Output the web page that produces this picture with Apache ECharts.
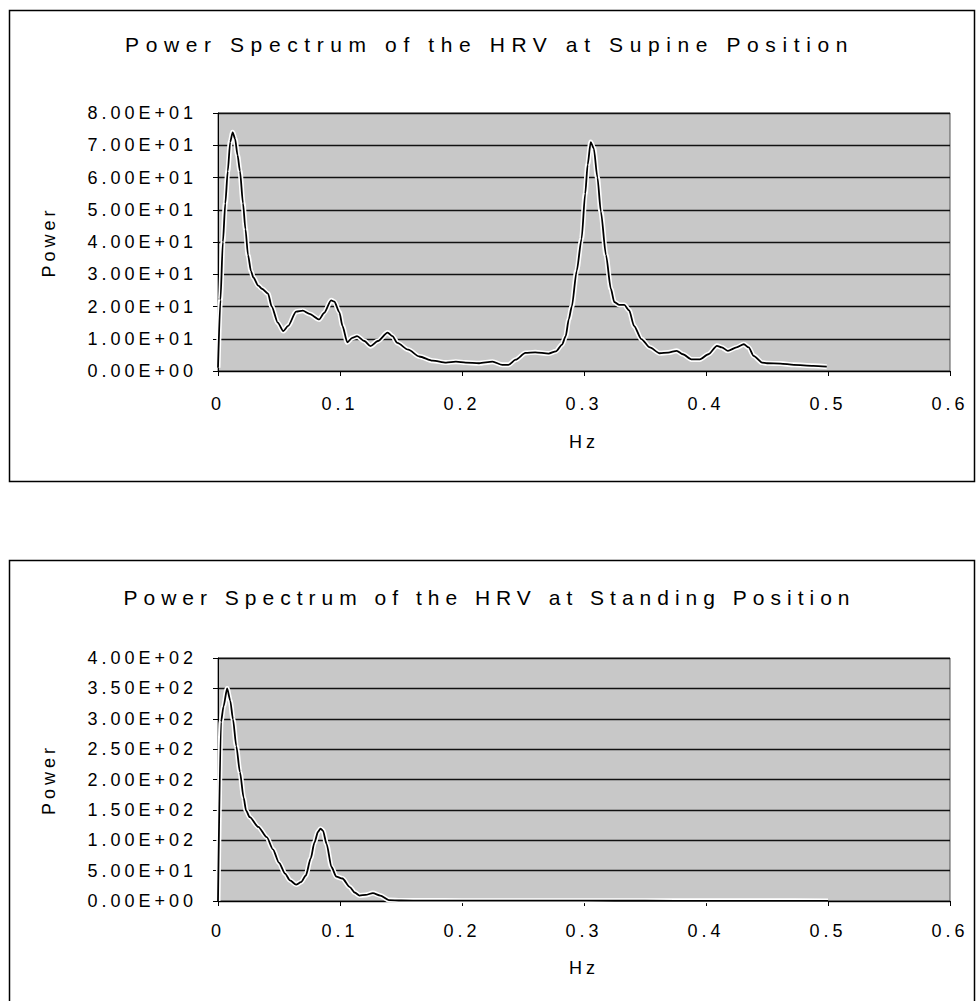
<!DOCTYPE html>
<html><head><meta charset="utf-8">
<script src="https://cdn.jsdelivr.net/npm/echarts@6/dist/echarts.min.js"></script>
<style>
html,body{margin:0;padding:0;background:#fff;}
#c{width:979px;height:1001px;}
#c svg text{letter-spacing:4px;}
</style></head><body><div id="c"></div>
<script>
// ---- data ----
const titles = ['Power Spectrum of the HRV at Supine Position', 'Power Spectrum of the HRV at Standing Position'];
const xAxisName = 'Hz';
const yAxisName = 'Power';
const hzTicks = ['0', '0.1', '0.2', '0.3', '0.4', '0.5', '0.6'];
const supineTicks = ['0.00E+00','1.00E+01','2.00E+01','3.00E+01','4.00E+01','5.00E+01','6.00E+01','7.00E+01','8.00E+01'];
const standingTicks = ['0.00E+00','5.00E+01','1.00E+02','1.50E+02','2.00E+02','2.50E+02','3.00E+02','3.50E+02','4.00E+02'];

const supineHz = [0,0.002,0.004,0.006,0.008,0.010,0.012,0.014,0.016,0.018,0.0205,0.0225,0.0246,0.027,0.029,0.033,0.036,0.041,0.044,0.049,0.0535,0.0575,0.064,0.0695,0.075,0.083,0.087,0.0927,0.0954,0.0995,0.102,0.106,0.110,0.114,0.120,0.125,0.131,0.139,0.143,0.147,0.156,0.165,0.176,0.187,0.195,0.203,0.214,0.225,0.233,0.238,0.244,0.252,0.260,0.271,0.277,0.282,0.285,0.2875,0.290,0.294,0.298,0.301,0.303,0.3055,0.308,0.311,0.3138,0.318,0.322,0.3248,0.329,0.333,0.337,0.341,0.347,0.354,0.362,0.369,0.376,0.381,0.388,0.395,0.402,0.409,0.413,0.418,0.425,0.431,0.435,0.439,0.446,0.450,0.461,0.472,0.488,0.499];
const supinePower = [1,22,40,52,62,71,74,72,67,62,52,44,36,31,29,26.5,25.5,24,20,15,12.4,14,18.4,18.7,17.7,16,18,21.9,21.5,18.2,14,8.9,10.3,10.8,9.3,7.7,9.3,11.9,10.8,8.7,6.6,4.5,3.2,2.6,2.9,2.6,2.4,2.9,1.9,1.9,3.5,5.6,5.8,5.4,6.1,8.2,10.8,16,20,31,41,55,64,71,69,60,49.5,36,25.5,21.4,20.5,20.5,18.8,14,9.9,7.3,5.5,5.7,6.25,5.2,3.6,3.6,5.2,7.8,7.3,6.25,7.3,8.3,7.3,4.7,2.6,2.4,2.3,1.9,1.6,1.35];

const standingHz = [0,0.0025,0.0045,0.0075,0.010,0.0123,0.015,0.018,0.021,0.023,0.026,0.033,0.040,0.045,0.050,0.055,0.059,0.064,0.068,0.072,0.076,0.079,0.082,0.084,0.086,0.089,0.093,0.097,0.102,0.108,0.112,0.116,0.121,0.127,0.133,0.140,0.150,0.170,0.200,0.250,0.300,0.350,0.400,0.450,0.500];
const standingPower = [0,295,320,350,330,299,255,212,170,149,138,122,105,85,63,45,34,27,31,42,70,96,114,119,116,94,56,40,37,23,14,9,10,13,9,1.5,0.8,0.7,0.6,0.5,0.5,0.4,0.3,0.3,0.2];

// ---- chart ----
const FONT = "'Liberation Sans', Arial, sans-serif";
function pairs(xs, ys){ return xs.map((x,i)=>[x, ys[i]]); }

function xAxisCfg(gridIndex, labelMargin, nameGap){
  return {
    type:'value', gridIndex, min:0, max:0.6, interval:0.1,
    name: xAxisName, nameLocation:'middle', nameGap,
    nameTextStyle:{fontFamily:FONT, fontSize:18, color:'#000'},
    axisLine:{show:true, onZero:false, lineStyle:{color:'#000', width:1}},
    axisTick:{show:true, length:5, inside:false, lineStyle:{color:'#000'}},
    axisLabel:{margin:labelMargin, fontFamily:FONT, fontSize:18, color:'#000',
      formatter:(v)=>hzTicks[Math.round(v/0.1)]},
    splitLine:{show:false}
  };
}
function yAxisCfg(gridIndex, max, interval, ticks){
  return {
    type:'value', gridIndex, min:0, max, interval,
    name: yAxisName, nameLocation:'middle', nameGap:160, nameRotate:90,
    nameTextStyle:{fontFamily:FONT, fontSize:18, color:'#000'},
    axisLine:{show:true, lineStyle:{color:'#000', width:1}},
    axisTick:{show:true, length:5, lineStyle:{color:'#000'}},
    axisLabel:{margin:21, fontFamily:FONT, fontSize:18, color:'#000',
      formatter:(v)=>ticks[Math.round(v/interval)]},
    splitLine:{show:true, lineStyle:{color:'#111', width:1.3, type:'solid'}}
  };
}
function seriesPair(idx, data){
  const base = {type:'line', xAxisIndex:idx, yAxisIndex:idx, data, showSymbol:false, symbol:'none',
    smooth:0.25, smoothMonotone:'x', silent:true, animation:false};
  return [
    Object.assign({}, base, {lineStyle:{color:'#fff', width:5}, z:2}),
    Object.assign({}, base, {lineStyle:{color:'#000', width:1.8}, z:3})
  ];
}

const chart = echarts.init(document.getElementById('c'), null, {renderer:'svg', width:979, height:1001});
const option = {
  animation:false,
  backgroundColor:'#fff',
  title:[
    {text:titles[0], left:'center', top:29, textStyle:{fontFamily:FONT, fontSize:21, fontWeight:'normal', color:'#000'}},
    {text:titles[1], left:'center', top:582, textStyle:{fontFamily:FONT, fontSize:21, fontWeight:'normal', color:'#000'}}
  ],
  grid:[
    {left:218, right:29, top:113, height:258, show:true, backgroundColor:'#c8c8c8', borderColor:'#555', borderWidth:1},
    {left:218, right:29, top:658, height:243, show:true, backgroundColor:'#c8c8c8', borderColor:'#555', borderWidth:1}
  ],
  xAxis:[xAxisCfg(0, 24, 62), xAxisCfg(1, 21, 58)],
  yAxis:[yAxisCfg(0, 80, 10, supineTicks), yAxisCfg(1, 400, 50, standingTicks)],
  series:[].concat(seriesPair(0, pairs(supineHz, supinePower)), seriesPair(1, pairs(standingHz, standingPower))),
  graphic:[
    {type:'rect', silent:true, shape:{x:9.5, y:10.5, width:965, height:471}, style:{fill:'none', stroke:'#000', lineWidth:1.5}},
    {type:'rect', silent:true, shape:{x:9.5, y:560.5, width:965, height:470}, style:{fill:'none', stroke:'#000', lineWidth:1.5}}
  ]
};
chart.setOption(option);
function applySpacing(){
  document.querySelectorAll('#c svg text').forEach(t=>{
    const s = t.textContent;
    if (s === titles[0]) t.style.letterSpacing = '6.6px';
    else if (s === titles[1]) t.style.letterSpacing = '6.0px';
  });
}
applySpacing();
chart.on('finished', applySpacing);
setTimeout(applySpacing, 50);
</script></body></html>
